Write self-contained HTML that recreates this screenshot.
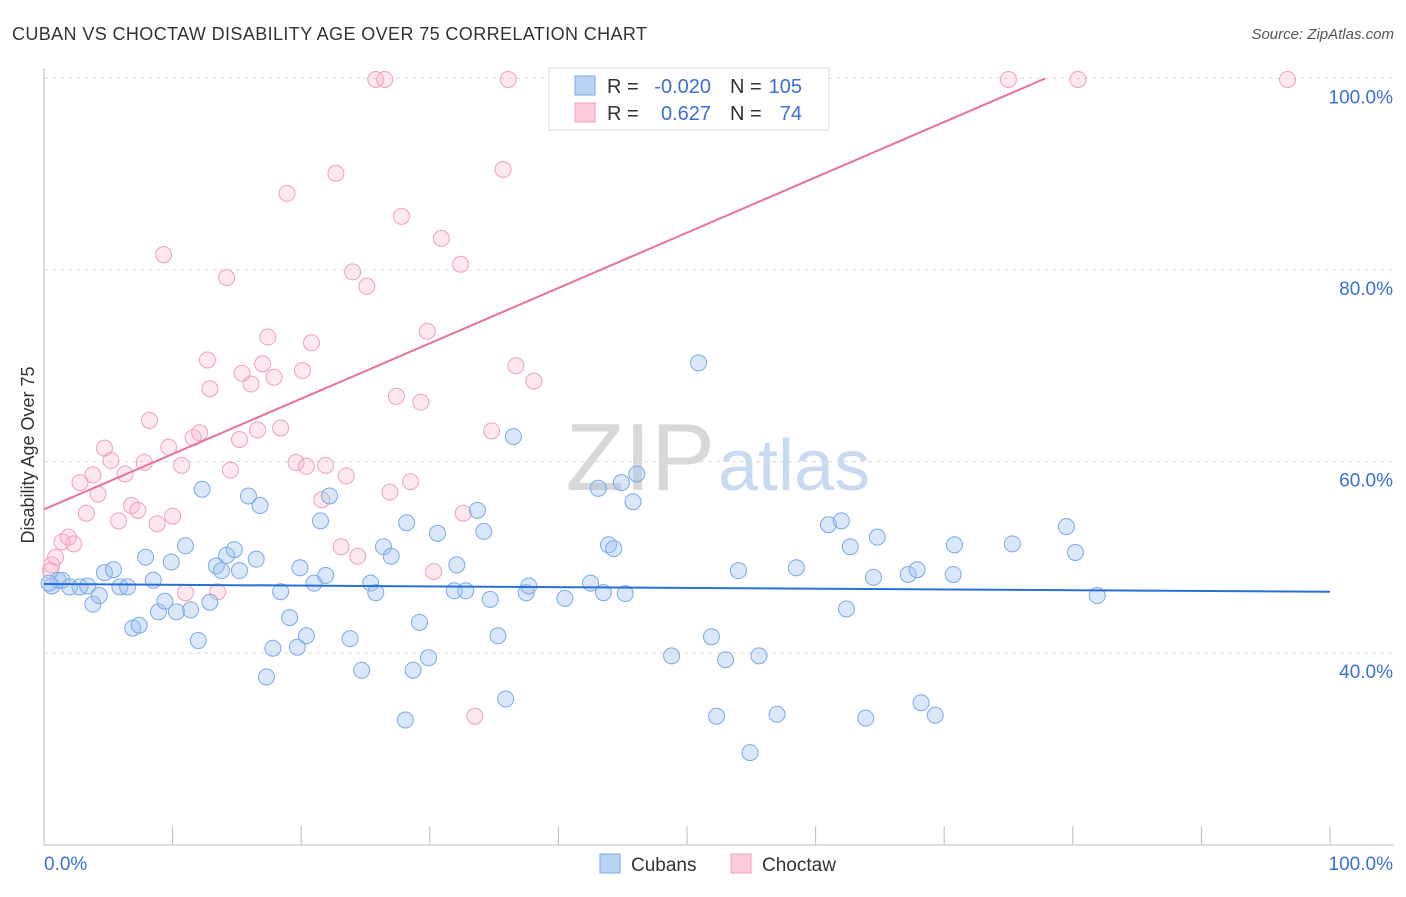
<!DOCTYPE html>
<html><head><meta charset="utf-8"><style>
body{margin:0;background:#fff;font-family:"Liberation Sans",sans-serif;}
svg text{font-family:"Liberation Sans",sans-serif;}
</style></head><body>
<svg id="chart" width="1406" height="892">
<text x="12" y="40" font-size="18" fill="#333" textLength="635">CUBAN VS CHOCTAW DISABILITY AGE OVER 75 CORRELATION CHART</text>
<text x="1394" y="39" font-size="15" fill="#555" font-style="italic" text-anchor="end">Source: ZipAtlas.com</text>
<text x="715" y="490" font-size="96" fill="#d8d8d8" text-anchor="end" font-family="Liberation Serif">ZIP</text>
<text x="718" y="490" font-size="72" fill="#c8daf2">atlas</text>
<text transform="translate(34,455) rotate(-90)" font-size="18" fill="#333" text-anchor="middle">Disability Age Over 75</text>
<g id="grid"></g><g id="pts"></g><g id="lines"></g>
<g>
<rect x="549" y="68" width="280" height="62" fill="#fff" stroke="#ddd"/>
<rect x="575" y="76" width="20" height="19" fill="#b8d2f4" stroke="#7aaae8"/>
<rect x="575" y="103" width="20" height="19" fill="#fccad8" stroke="#f0a0b8"/>
<text x="607" y="93" font-size="20" fill="#333">R =</text>
<text x="711" y="93" font-size="20" fill="#3a6fd8" text-anchor="end">-0.020</text>
<text x="730" y="93" font-size="20" fill="#333">N =</text>
<text x="802" y="93" font-size="20" fill="#3a6fd8" text-anchor="end">105</text>
<text x="607" y="120" font-size="20" fill="#333">R =</text>
<text x="711" y="120" font-size="20" fill="#3a6fd8" text-anchor="end">0.627</text>
<text x="730" y="120" font-size="20" fill="#333">N =</text>
<text x="802" y="120" font-size="20" fill="#3a6fd8" text-anchor="end">74</text>
</g>
<g>
<rect x="600" y="854" width="20" height="19" fill="#b8d2f4" stroke="#7aaae8"/>
<text x="631" y="871" font-size="19" fill="#333">Cubans</text>
<rect x="731" y="854" width="20" height="19" fill="#fccad8" stroke="#f0a0b8"/>
<text x="762" y="871" font-size="19" fill="#333">Choctaw</text>
</g>
<text x="44" y="870" font-size="19" fill="#3a6fd8">0.0%</text>
<text x="1393" y="870" font-size="19" fill="#3a6fd8" text-anchor="end">100.0%</text>
</svg>
<script>
const yTicks=[100,80,60,40];
const yTickLabels=["100.0%","80.0%","60.0%","40.0%"];
const xTicks=[0,10,20,30,40,50,60,70,80,90,100];
const cubanX=[0.6,1.1,1.4,2.0,2.8,3.4,3.8,4.3,4.7,5.4,5.9,6.5,6.9,7.4,7.9,8.5,8.9,9.4,9.9,10.3,11.0,11.4,12.0,12.3,12.9,13.4,13.8,14.2,14.8,15.2,15.9,16.5,16.8,17.3,17.8,18.4,19.1,19.7,19.9,20.4,21.0,21.5,21.9,22.2,23.8,24.7,25.4,25.8,26.4,27.0,28.1,28.2,28.7,29.2,29.9,30.6,31.9,32.1,32.8,33.7,34.2,34.7,35.3,35.9,36.5,37.5,37.7,40.5,42.5,43.1,43.5,43.9,44.3,44.9,45.2,45.8,46.1,48.8,50.9,51.9,52.3,53.0,54.0,54.9,55.6,57.0,58.5,61.0,62.0,62.4,62.7,63.9,64.5,64.8,67.2,67.9,68.2,69.3,70.7,70.8,75.3,79.5,80.2,81.9,0.4];
const cubanY=[47.0,47.6,47.6,46.9,46.9,47.0,45.1,46.0,48.4,48.7,46.9,46.9,42.6,42.9,50.0,47.6,44.3,45.4,49.5,44.3,51.2,44.5,41.3,57.1,45.3,49.1,48.6,50.2,50.8,48.6,56.4,49.8,55.4,37.5,40.5,46.4,43.7,40.6,48.9,41.8,47.3,53.8,48.1,56.4,41.5,38.2,47.3,46.3,51.1,50.1,33.0,53.6,38.2,43.2,39.5,52.5,46.5,49.2,46.5,54.9,52.7,45.6,41.8,35.2,62.6,46.3,47.0,45.7,47.3,57.2,46.3,51.3,50.9,57.8,46.2,55.8,58.7,39.7,70.3,41.7,33.4,39.3,48.6,29.6,39.7,33.6,48.9,53.4,53.8,44.6,51.1,33.2,47.9,52.1,48.2,48.7,34.8,33.5,48.2,51.3,51.4,53.2,50.5,46.0,47.3];
const choctawX=[0.6,0.9,1.4,1.9,2.3,2.8,3.3,3.8,4.2,4.7,5.2,5.8,6.3,6.8,7.3,7.8,8.2,8.8,9.3,9.7,10.0,10.7,11.0,11.6,12.1,12.7,12.9,13.5,14.2,14.5,15.2,15.4,16.1,16.6,17.0,17.4,17.9,18.4,18.9,19.6,20.1,20.4,20.8,21.6,21.9,22.7,23.1,23.5,24.0,24.4,25.1,25.8,26.5,26.9,27.4,27.8,28.5,29.3,29.8,30.3,30.9,32.4,32.6,33.5,34.8,35.7,36.1,36.7,38.1,45.4,75.0,80.4,96.7,0.5];
const choctawY=[49.2,50.0,51.6,52.1,51.4,57.8,54.6,58.6,56.6,61.4,60.1,53.8,58.7,55.4,54.9,59.9,64.3,53.5,81.6,61.5,54.3,59.6,46.3,62.5,63.0,70.6,67.6,46.4,79.2,59.1,62.3,69.2,68.1,63.3,70.2,73.0,68.8,63.5,88.0,59.9,69.5,59.5,72.4,56.0,59.6,90.1,51.1,58.5,79.8,50.1,78.3,99.9,99.9,56.8,66.8,85.6,57.9,66.2,73.6,48.5,83.3,80.6,54.6,33.4,63.2,90.5,99.9,70.0,68.4,99.9,99.9,99.9,99.9,48.6];
const cubanLine=[47.2,46.4];
const choctawLine=[55.0,57.8];
const NS="http://www.w3.org/2000/svg";
const X=v=>44+v*12.86, Y=v=>1036-v*9.575;
function mk(t,a,p){const e=document.createElementNS(NS,t);for(const k in a)e.setAttribute(k,a[k]);p.appendChild(e);return e;}
const g=document.getElementById('grid');
yTicks.forEach((t,i)=>{
 const l=mk('line',{x1:44,x2:1394,y1:Y(t),y2:Y(t),stroke:'#ddd','stroke-dasharray':'4,4'},g);
 
 
 const tx=mk('text',{x:1393,y:Y(t)+25,'font-size':19,fill:'#3a6fd8','text-anchor':'end'},g);
 tx.textContent=yTickLabels[i];
 
 
});
const ax=mk('line',{x1:44,x2:1394,y1:845,y2:845,stroke:'#bbb'},g);


const ay=mk('line',{x1:44,x2:44,y1:68,y2:845,stroke:'#bbb'},g);


xTicks.forEach(t=>{
 const l=mk('line',{x1:X(t),x2:X(t),y1:826,y2:845,stroke:'#bbb'},g);
 
 
});
const p=document.getElementById('pts');
choctawX.forEach((v,i)=>{
 const c=mk('circle',{cx:X(v),cy:Y(choctawY[i]),r:8,fill:'rgba(248,180,200,0.3)',stroke:'#f0a0b8','stroke-width':1},p);
 
 
});
cubanX.forEach((v,i)=>{
 const c=mk('circle',{cx:X(v),cy:Y(cubanY[i]),r:8,fill:'rgba(160,196,240,0.4)',stroke:'#7aaae8','stroke-width':1},p);
 
 
});
const L=document.getElementById('lines');
const bl=mk('line',{x1:X(0),y1:Y(cubanLine[0]),x2:X(100),y2:Y(cubanLine[1]),stroke:'#2a6fd6','stroke-width':2},L);


const xe=(100-choctawLine[0])/choctawLine[1];
const pl=mk('line',{x1:X(0),y1:Y(choctawLine[0]),x2:X(xe*100),y2:Y(100),stroke:'#e8709a','stroke-width':2},L);


</script>
</body></html>
